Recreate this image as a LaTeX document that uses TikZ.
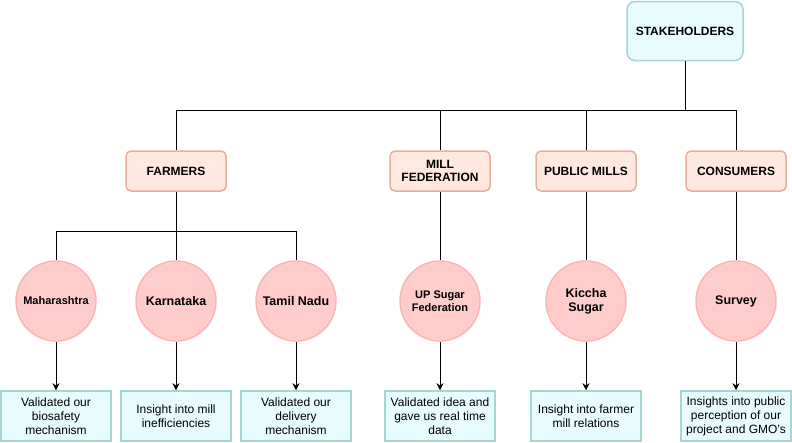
\documentclass[tikz,border=0pt]{standalone}
\usepackage{fontspec}
\setmainfont{Liberation Sans}
\usetikzlibrary{arrows.meta}
\definecolor{tealfill}{HTML}{E8FCFD}
\definecolor{tealline}{HTML}{A3D6D4}
\definecolor{peachfill}{HTML}{FFE8E0}
\definecolor{peachline}{HTML}{E6B09C}
\definecolor{pinkfill}{HTML}{FFCCCC}
\definecolor{pinkline}{HTML}{FFB5B5}
\tikzset{
  rootbox/.style={draw=tealline,fill=tealfill,line width=1.5pt,rounded corners=8pt,
    minimum width=116pt,minimum height=59pt,font=\fontsize{12}{14}\selectfont\bfseries},
  groupbox/.style={draw=peachline,fill=peachfill,line width=1.5pt,rounded corners=5pt,
    minimum width=100pt,minimum height=40pt,align=center,font=\fontsize{12}{13}\selectfont\bfseries},
  placecirc/.style={circle,draw=pinkline,fill=pinkfill,line width=1.5pt,minimum size=80pt,
    inner sep=0pt,align=center,font=\fontsize{12.5}{14}\selectfont\bfseries},
  notebox/.style={draw=tealline,fill=tealfill,line width=1.5pt,minimum width=110pt,
    minimum height=50pt,align=center,font=\fontsize{12}{14}\selectfont},
  link/.style={line width=0.9pt},
  arr/.style={line width=0.9pt,-{Stealth[length=7pt,width=7pt]}}
}
\begin{document}
\begin{tikzpicture}[x=1pt,y=-1pt]
\useasboundingbox (0,0) rectangle (792,442);
% top
\node[rootbox] (stake) at (685,31) {STAKEHOLDERS};
\coordinate (jtop) at (685,110);
% second row
\node[groupbox] (farmers) at (176,171) {FARMERS};
\node[groupbox] (millfed) at (440,171) {MILL\\FEDERATION};
\node[groupbox] (pubmills) at (586,171) {PUBLIC MILLS};
\node[groupbox] (consumers) at (736,171) {CONSUMERS};
\coordinate (jfarm) at (176,231);
% circles
\node[placecirc,font=\fontsize{11}{13}\selectfont\bfseries] (maha) at (56,301) {Maharashtra};
\node[placecirc] (karna) at (176,301) {Karnataka};
\node[placecirc] (tamil) at (296,301) {Tamil Nadu};
\node[placecirc,font=\fontsize{11}{13}\selectfont\bfseries] (upsugar) at (440,301) {UP Sugar\\Federation};
\node[placecirc] (kiccha) at (586,301) {Kiccha\\Sugar};
\node[placecirc] (survey) at (736,301) {Survey};
% findings
\node[notebox] (nmaha) at (56,416) {Validated our\\biosafety\\mechanism};
\node[notebox] (nkarna) at (176,416) {Insight into mill\\inefficiencies};
\node[notebox] (ntamil) at (296,416) {Validated our\\delivery\\mechanism};
\node[notebox] (nupsugar) at (440,416) {Validated idea and\\gave us real time\\data};
\node[notebox] (nkiccha) at (586,416) {Insight into farmer\\mill relations};
\node[notebox] (nsurvey) at (736,416) {Insights into public\\perception of our\\project and GMO's};
% connectors
\draw[link] (stake) -- (jtop);
\foreach \g in {farmers,millfed,pubmills,consumers} \draw[link] (\g.north) |- (jtop);
\draw[link] (farmers) -- (karna);
\foreach \c in {maha,tamil} \draw[link] (\c.north) |- (jfarm);
\draw[link] (millfed) -- (upsugar);
\draw[link] (pubmills) -- (kiccha);
\draw[link] (consumers) -- (survey);
\foreach \c in {maha,karna,tamil,upsugar,kiccha,survey} \draw[arr] (\c) -- (n\c);
\end{tikzpicture}
\end{document}
